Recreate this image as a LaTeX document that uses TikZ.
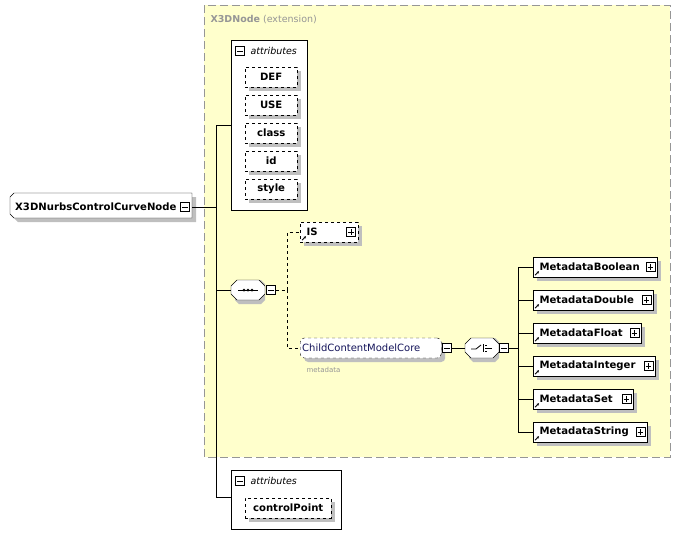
\documentclass[tikz,border=0pt]{standalone}
\usepackage{fontspec}
\setmainfont{DejaVu Sans}
\usetikzlibrary{positioning, shadows, calc, arrows.meta}
\definecolor{extyellow}{RGB}{255, 255, 204}
\definecolor{extborder}{RGB}{150, 150, 150}
\definecolor{refblue}{RGB}{20, 20, 90}
\tikzset{
  shade4/.style={drop shadow={shadow xshift=4pt, shadow yshift=-4pt, fill=black!25, opacity=1}},
  elem/.style={draw, fill=white, minimum height=20pt, inner sep=0pt, anchor=west,
    font=\fontsize{10.1}{12}\selectfont\bfseries, shade4},
  attr/.style={elem, dashed, minimum width=52pt},
  grp/.style={draw, fill=white, inner sep=0pt, anchor=north west},
  oct/.style={minimum width=34pt, minimum height=20pt, inner sep=0pt},
  pics/sgn/.style={code={
    \draw[fill=white] (-4.5pt,-4.5pt) rectangle (4.5pt,4.5pt);
    \draw (-2.8pt,0) -- (2.8pt,0);
    \ifx#1p\draw (0,-2.8pt) -- (0,2.8pt);\fi}},
  pics/octo/.style={code={
    \fill[black!25] (-13,-6) -- (-9,-10) -- (13,-10) -- (17,-6) -- (17,10) -- (13,14) -- (-9,14) -- (-13,10) -- cycle;
    \draw[fill=white] (-17,-4) -- (-11,-10) -- (11,-10) -- (17,-4) -- (17,4) -- (11,10) -- (-11,10) -- (-17,4) -- cycle;}},
  refmark/.style={-{Stealth[length=2.5pt,width=2.5pt]}, line width=0.8pt},
  conn/.style={line width=0.6pt},
}
\begin{document}
\begin{tikzpicture}[x=1pt, y=-1pt]
  \useasboundingbox (0,0) rectangle (680,549);

  % extension frame
  \draw[extborder, dashed, dash pattern=on 8pt off 4pt, fill=extyellow] (204,5) rectangle (670,457);
  \node[anchor=west, font=\fontsize{9.5}{10}\selectfont, text=extborder] (ext) at (207,20) {\textbf{X3DNode} (extension)};

  % main element
  \fill[black!25] (14,201) -- (18,197) -- (196,197) -- (196,222) -- (18,222) -- (14,218) -- cycle;
  \draw[fill=white] (10,197) -- (14,193) -- (192,193) -- (192,218) -- (14,218) -- (10,214) -- cycle;
  \node[anchor=west, font=\fontsize{10.1}{12}\selectfont\bfseries, inner sep=0pt] (main) at (15,207) {X3DNurbsControlCurveNode};
  \coordinate (mainout) at (192,207);
  \pic at (185,207) {sgn=m};

  % attributes inside extension
  \node[grp, minimum width=76pt, minimum height=170pt] (attrs) at (231,40) {};
  \pic at (240,51) {sgn=m};
  \node[anchor=west, font=\fontsize{9.5}{10}\selectfont\itshape] at (247,51) {attributes};
  \foreach \n/\t/\y in {def/DEF/77, use/USE/105, cls/class/133, id/id/161, sty/style/189}
    \node[attr] (\n) at (245,\y) {\t};

  % sequence
  \pic at (248,290) {octo};
  \node[oct] (seq) at (248,290) {};
  \draw[line width=0.9pt] ($(seq.center)+(-10,0)$) -- ($(seq.center)+(10,0)$);
  \foreach \d in {-4,0,4} \fill ($(seq.center)+(\d,0)$) circle (1.5pt);
  \pic at (271,290) {sgn=m};
  \coordinate (seqout) at (275.5,290);
  \coordinate (seqfork) at (287,290);

  \node[elem, dashed, minimum width=58pt, text width=52pt, align=left] (is) at (300,232) {~IS};
  \pic at (351,232) {sgn=p};
  \node[elem, dashed, rounded corners=4pt, minimum width=141pt, text width=137pt, align=left,
    font=\fontsize{10}{12}\selectfont, text=refblue] (ccm) at (300,348) {ChildContentModelCore};
  \node[anchor=west, font=\fontsize{7}{8}\selectfont, text=extborder] (ccmlbl) at (303,370) {metadata};
  \pic at (447,348) {sgn=m};
  \coordinate (ccmout) at (451.5,348);

  % choice
  \pic at (482,348) {octo};
  \node[oct] (cho) at (482,348) {};
  \draw[line width=0.8pt] ($(cho.center)+(-11,1)$) -- ($(cho.center)+(-6,1)$) -- ($(cho.center)+(-1,-3)$);
  \draw ($(cho.center)+(1,-4)$) -- ($(cho.center)+(1,4)$);
  \foreach \d in {-3,0,3} \fill ($(cho.center)+(3,\d)$) rectangle ++(2,1.4);
  \draw ($(cho.center)+(5,0)$) -- ($(cho.center)+(10,0)$);
  \pic at (504,348) {sgn=m};
  \coordinate (choout) at (508.5,348);
  \coordinate (chofork) at (518,348);

  \foreach \n/\t/\y/\w in {mb/MetadataBoolean/267/124, md/MetadataDouble/300/120, mf/MetadataFloat/333/108,
      mi/MetadataInteger/366/122, ms/MetadataSet/399/100, mstr/MetadataString/432/114} {
    \node[elem, minimum width=\w pt, text width=\w pt - 6pt, align=left] (\n) at (533,\y) {~\t};
    \pic at ($(\n.east)+(-7,0)$) {sgn=p};
    \draw[refmark] ($(\n.south west)+(2,-2)$) -- ++(4,-4);
    \draw[conn] (chofork) |- (\n.west);
  }
  \draw[refmark] ($(is.south west)+(2,-2)$) -- ++(4,-4);

  % bottom attributes
  \node[grp, minimum width=110pt, minimum height=59pt] (attrs2) at (231,470) {};
  \pic at (240,481) {sgn=m};
  \node[anchor=west, font=\fontsize{9.5}{10}\selectfont\itshape] at (247,481) {attributes};
  \node[attr, minimum width=86pt] (cp) at (245,508) {controlPoint};

  % connectors
  \coordinate (trunk) at (216,207);
  \draw[conn] (mainout) -- (trunk);
  \draw[conn] (trunk) |- (attrs.west);
  \draw[conn] (trunk) |- (seq.west);
  \draw[conn] (trunk) |- ($(attrs2.north west)+(0,27)$);
  \draw[conn, dashed] (seqout) -- (seqfork) |- (is.west);
  \draw[conn, dashed] (seqfork) |- (ccm.west);
  \draw[conn] (ccmout) -- (cho.west);
  \draw[conn] (choout) -- (chofork);
\end{tikzpicture}
\end{document}
